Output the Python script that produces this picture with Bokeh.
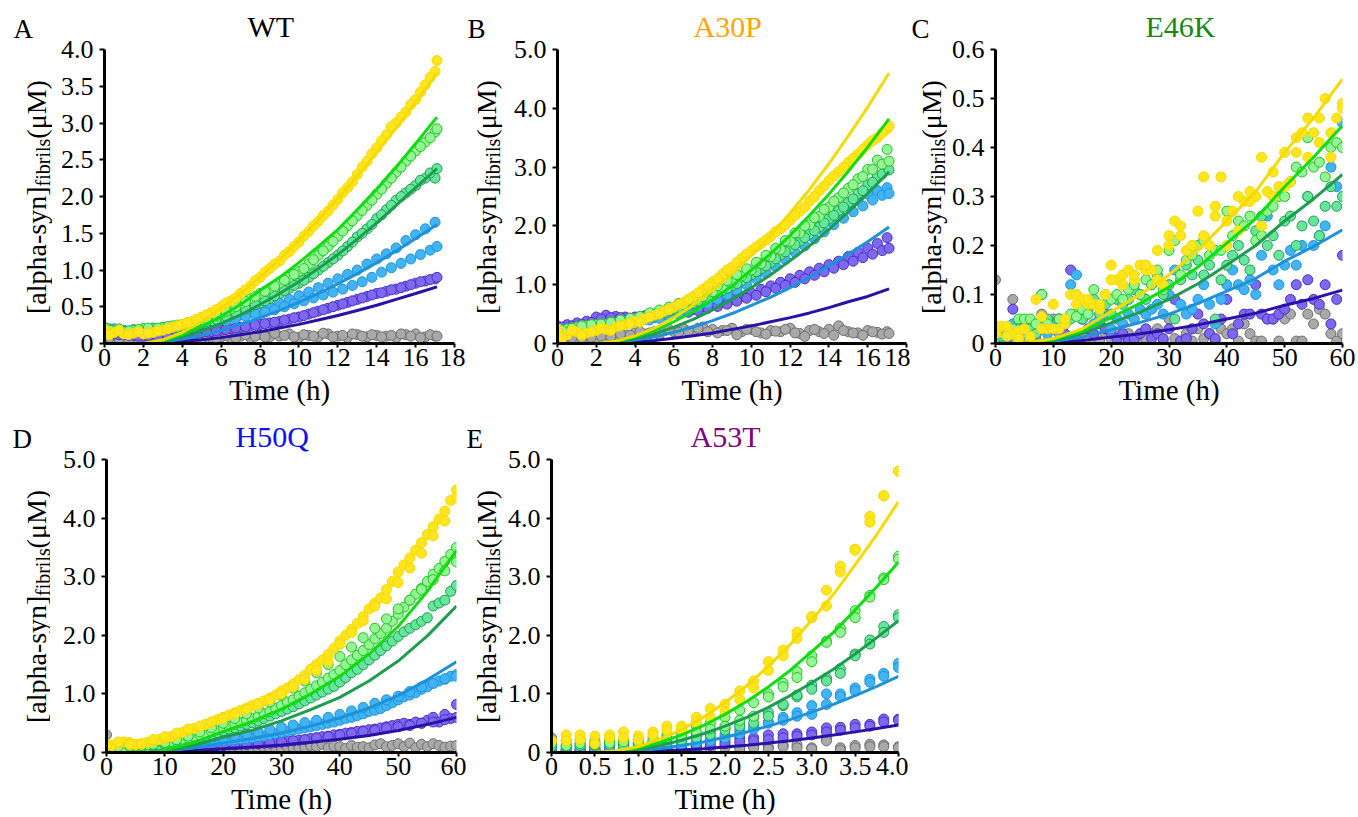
import math
from bokeh.plotting import figure
from bokeh.models import Range1d, FixedTicker
from bokeh.layouts import column, row
from bokeh.core.properties import value
from bokeh.embed import file_html
from bokeh.resources import INLINE

FONT = "Liberation Serif"

# ---------------- data ----------------
T_AB1 = [0, 0.5, 1, 1.5, 2, 2.5, 3, 3.5, 4, 4.5, 5, 5.5, 6, 6.5, 7, 7.5, 8, 8.5, 9, 9.5,
         10, 10.5, 11, 11.5, 12, 12.5, 13, 13.5, 14, 14.5, 15, 15.5, 16, 16.5, 17]
T_AB2 = [0.25, 0.75, 1.25, 1.75, 2.25, 2.75, 3.25, 3.75, 4.25, 4.75, 5.25, 5.75, 6.25, 6.75,
         7.25, 7.75, 8.25, 8.75, 9.25, 9.75, 10.25, 10.75, 11.25, 11.75, 12.25, 12.75, 13.25,
         13.75, 14.25, 14.75, 15.25, 15.75, 16.25, 16.75, 17.1]
T_FIT_AB = [2, 3, 4, 5, 6, 7, 8, 9, 10, 11, 12, 13, 14, 15, 16, 17.1]

T_60 = [0, 1, 2, 3, 4, 5, 6, 7, 8, 9, 10, 11, 12, 13, 14, 15, 16, 17, 18, 19, 20, 21, 22, 23,
        24, 25, 26, 27, 28, 29, 30, 31, 32, 33, 34, 35, 36, 37, 38, 39, 40, 41, 42, 43, 44, 45,
        46, 47, 48, 49, 50, 51, 52, 53, 54, 55, 56, 57, 58, 59, 60]
T_60B = [0, 2, 4, 6, 8, 10, 12, 14, 16, 18, 20, 22, 24, 26, 28, 30, 32, 34, 36, 38, 40, 42,
         44, 46, 48, 50, 52, 54, 56, 58, 60]
T_FIT_C = [5, 10, 15, 20, 25, 30, 35, 40, 45, 50, 55, 60]
T_FIT_D = [8, 10, 15, 20, 25, 30, 35, 40, 45, 50, 55, 60]

T_E = [0, 0.17, 0.33, 0.5, 0.67, 0.83, 1.0, 1.17, 1.33, 1.5, 1.67, 1.83, 2.0, 2.17, 2.33,
       2.5, 2.67, 2.83, 3.0, 3.17, 3.33, 3.5, 3.67, 3.83, 4.0]
T_FIT_E = [0.5, 0.75, 1.0, 1.25, 1.5, 1.75, 2.0, 2.25, 2.5, 2.75, 3.0, 3.25, 3.5, 3.75, 4.0]

# ---- A: WT ----
A_yellow1 = [0.20, 0.15, 0.13, 0.14, 0.13, 0.15, 0.18, 0.22, 0.26, 0.30, 0.36, 0.42, 0.50, 0.58, 0.68, 0.78, 0.90, 1.02, 1.12, 1.25,
             1.38, 1.52, 1.66, 1.80, 1.96, 2.12, 2.30, 2.48, 2.66, 2.84, 3.00, 3.15, 3.32, 3.52, 3.70]
A_yellow2 = [0.12, 0.18, 0.12, 0.16, 0.14, 0.17, 0.20, 0.24, 0.28, 0.33, 0.39, 0.46, 0.55, 0.62, 0.73, 0.85, 0.97, 1.08, 1.20, 1.32,
             1.46, 1.60, 1.74, 1.88, 2.05, 2.20, 2.40, 2.58, 2.76, 2.95, 3.08, 3.25, 3.42, 3.62, 3.85]
A_lgreen1 = [0.20, 0.18, 0.16, 0.18, 0.20, 0.20, 0.22, 0.24, 0.26, 0.29, 0.32, 0.36, 0.41, 0.47, 0.54, 0.61, 0.68, 0.75, 0.82, 0.90,
             0.98, 1.08, 1.20, 1.32, 1.46, 1.60, 1.74, 1.88, 2.03, 2.18, 2.33, 2.48, 2.62, 2.74, 2.88]
A_lgreen2 = [0.18, 0.20, 0.17, 0.19, 0.21, 0.21, 0.23, 0.25, 0.28, 0.30, 0.34, 0.38, 0.44, 0.50, 0.57, 0.64, 0.71, 0.78, 0.86, 0.94,
             1.02, 1.14, 1.26, 1.39, 1.53, 1.67, 1.81, 1.95, 2.10, 2.25, 2.40, 2.55, 2.68, 2.80, 2.92]
A_dgreen1 = [0.18, 0.15, 0.14, 0.15, 0.16, 0.17, 0.19, 0.21, 0.23, 0.25, 0.28, 0.31, 0.35, 0.40, 0.45, 0.50, 0.55, 0.61, 0.68, 0.75,
             0.82, 0.90, 1.00, 1.10, 1.20, 1.32, 1.45, 1.56, 1.70, 1.82, 1.95, 2.05, 2.15, 2.25, 2.25]
A_dgreen2 = [0.16, 0.16, 0.15, 0.16, 0.17, 0.18, 0.20, 0.22, 0.24, 0.27, 0.30, 0.33, 0.37, 0.42, 0.47, 0.53, 0.58, 0.65, 0.72, 0.79,
             0.86, 0.95, 1.05, 1.15, 1.26, 1.38, 1.50, 1.62, 1.75, 1.88, 2.00, 2.10, 2.22, 2.32, 2.38]
A_blue1 = [0.22, 0.20, 0.18, 0.19, 0.20, 0.21, 0.22, 0.23, 0.24, 0.26, 0.28, 0.30, 0.33, 0.36, 0.39, 0.42, 0.46, 0.50, 0.55, 0.60,
           0.65, 0.70, 0.76, 0.82, 0.88, 0.94, 1.00, 1.08, 1.15, 1.22, 1.30, 1.40, 1.48, 1.56, 1.65]
A_blue2 = [0.20, 0.18, 0.17, 0.18, 0.19, 0.20, 0.21, 0.22, 0.23, 0.25, 0.27, 0.29, 0.31, 0.34, 0.37, 0.40, 0.43, 0.46, 0.50, 0.54,
           0.58, 0.62, 0.66, 0.70, 0.74, 0.79, 0.84, 0.90, 0.97, 1.03, 1.09, 1.15, 1.21, 1.27, 1.32]
A_purple1 = [0.15, 0.13, 0.12, 0.11, 0.10, 0.10, 0.10, 0.11, 0.12, 0.13, 0.15, 0.16, 0.18, 0.20, 0.22, 0.24, 0.26, 0.28, 0.30, 0.33,
             0.36, 0.40, 0.44, 0.48, 0.52, 0.56, 0.60, 0.64, 0.68, 0.71, 0.74, 0.78, 0.82, 0.85, 0.88]
A_purple2 = [0.14, 0.12, 0.11, 0.10, 0.10, 0.10, 0.11, 0.12, 0.13, 0.14, 0.16, 0.17, 0.19, 0.21, 0.23, 0.25, 0.27, 0.29, 0.32, 0.35,
             0.38, 0.42, 0.46, 0.50, 0.54, 0.58, 0.62, 0.66, 0.69, 0.73, 0.76, 0.80, 0.84, 0.87, 0.90]
A_gray1 = [0.10, 0.08, 0.07, 0.06, 0.06, 0.07, 0.05, 0.06, 0.07, 0.08, 0.06, 0.08, 0.09, 0.07, 0.10, 0.08, 0.12, 0.09, 0.10, 0.13,
           0.08, 0.11, 0.09, 0.13, 0.10, 0.08, 0.12, 0.09, 0.11, 0.10, 0.08, 0.12, 0.13, 0.09, 0.10]
A_gray2 = [0.08, 0.06, 0.05, 0.06, 0.07, 0.05, 0.06, 0.08, 0.07, 0.09, 0.10, 0.07, 0.11, 0.08, 0.12, 0.10, 0.09, 0.14, 0.11, 0.09,
           0.12, 0.10, 0.14, 0.09, 0.11, 0.13, 0.10, 0.12, 0.09, 0.11, 0.13, 0.10, 0.08, 0.12, 0.10]
A_fit_yellow = [0, 0.05, 0.15, 0.30, 0.48, 0.68, 0.90, 1.14, 1.40, 1.68, 1.97, 2.28, 2.60, 2.93, 3.28, 3.68]
A_fit_green = [0, 0.04, 0.12, 0.23, 0.37, 0.53, 0.72, 0.90, 1.10, 1.32, 1.55, 1.82, 2.10, 2.40, 2.72, 3.08]
A_fit_dgreen = [0, 0.03, 0.09, 0.17, 0.27, 0.39, 0.53, 0.68, 0.84, 1.02, 1.21, 1.42, 1.64, 1.88, 2.12, 2.38]
A_fit_blue = [0, 0.02, 0.06, 0.11, 0.18, 0.26, 0.35, 0.45, 0.56, 0.68, 0.81, 0.95, 1.10, 1.26, 1.43, 1.62]
A_fit_navy = [0, 0.01, 0.03, 0.05, 0.08, 0.12, 0.16, 0.21, 0.26, 0.32, 0.38, 0.45, 0.52, 0.60, 0.68, 0.77]

# ---- B: A30P ----
B_yellow1 = [0.25, 0.15, 0.20, 0.18, 0.22, 0.24, 0.28, 0.32, 0.38, 0.42, 0.48, 0.55, 0.62, 0.70, 0.80, 0.92, 1.05, 1.18, 1.30, 1.45,
             1.58, 1.70, 1.82, 1.95, 2.10, 2.25, 2.42, 2.60, 2.77, 2.92, 3.08, 3.22, 3.38, 3.50, 3.65]
B_yellow2 = [0.10, 0.22, 0.14, 0.20, 0.26, 0.22, 0.30, 0.34, 0.36, 0.45, 0.50, 0.58, 0.66, 0.75, 0.86, 0.98, 1.10, 1.25, 1.38, 1.52,
             1.64, 1.76, 1.90, 2.02, 2.18, 2.32, 2.50, 2.68, 2.85, 3.00, 3.15, 3.30, 3.45, 3.58, 3.70]
B_lgreen1 = [0.20, 0.25, 0.28, 0.30, 0.32, 0.33, 0.35, 0.38, 0.42, 0.45, 0.50, 0.55, 0.60, 0.66, 0.72, 0.80, 0.88, 0.96, 1.05, 1.15,
             1.25, 1.36, 1.48, 1.60, 1.74, 1.88, 2.02, 2.16, 2.32, 2.48, 2.64, 2.80, 2.96, 3.12, 3.30]
B_lgreen2 = [0.22, 0.26, 0.30, 0.32, 0.33, 0.36, 0.40, 0.43, 0.46, 0.52, 0.57, 0.62, 0.68, 0.74, 0.82, 0.90, 0.98, 1.07, 1.17, 1.27,
             1.38, 1.50, 1.62, 1.75, 1.88, 2.00, 2.14, 2.28, 2.42, 2.56, 2.70, 2.84, 2.96, 3.05, 3.10]
B_dgreen1 = [0.20, 0.22, 0.25, 0.27, 0.30, 0.32, 0.34, 0.36, 0.40, 0.43, 0.47, 0.52, 0.57, 0.62, 0.68, 0.75, 0.82, 0.90, 0.98, 1.07,
             1.17, 1.27, 1.38, 1.50, 1.62, 1.74, 1.86, 1.98, 2.12, 2.26, 2.40, 2.55, 2.70, 2.85, 3.00]
B_dgreen2 = [0.18, 0.24, 0.26, 0.29, 0.31, 0.33, 0.35, 0.38, 0.41, 0.45, 0.50, 0.55, 0.60, 0.65, 0.72, 0.78, 0.86, 0.94, 1.02, 1.12,
             1.22, 1.32, 1.44, 1.56, 1.68, 1.80, 1.92, 2.05, 2.18, 2.32, 2.46, 2.60, 2.74, 2.88, 2.95]
B_blue1 = [0.22, 0.24, 0.26, 0.28, 0.30, 0.32, 0.34, 0.36, 0.38, 0.41, 0.44, 0.48, 0.53, 0.58, 0.64, 0.70, 0.78, 0.86, 0.94, 1.04,
           1.14, 1.24, 1.36, 1.48, 1.60, 1.72, 1.85, 1.98, 2.10, 2.22, 2.34, 2.45, 2.54, 2.60, 2.65]
B_blue2 = [0.20, 0.22, 0.25, 0.27, 0.29, 0.31, 0.33, 0.35, 0.37, 0.40, 0.43, 0.47, 0.51, 0.56, 0.62, 0.68, 0.75, 0.83, 0.91, 1.00,
           1.10, 1.20, 1.31, 1.43, 1.55, 1.66, 1.78, 1.90, 2.02, 2.13, 2.24, 2.34, 2.44, 2.52, 2.55]
B_purple1 = [0.30, 0.32, 0.35, 0.38, 0.45, 0.48, 0.46, 0.45, 0.45, 0.47, 0.48, 0.50, 0.52, 0.55, 0.58, 0.62, 0.66, 0.70, 0.75, 0.80,
             0.86, 0.92, 0.98, 1.04, 1.10, 1.16, 1.22, 1.28, 1.34, 1.40, 1.48, 1.55, 1.62, 1.70, 1.80]
B_purple2 = [0.28, 0.30, 0.33, 0.36, 0.42, 0.44, 0.44, 0.43, 0.44, 0.45, 0.47, 0.49, 0.51, 0.53, 0.56, 0.60, 0.63, 0.67, 0.72, 0.77,
             0.82, 0.88, 0.94, 0.99, 1.04, 1.10, 1.16, 1.22, 1.28, 1.34, 1.40, 1.46, 1.52, 1.58, 1.62]
B_gray1 = [0.10, 0.08, 0.10, 0.12, 0.10, 0.14, 0.12, 0.15, 0.18, 0.16, 0.20, 0.22, 0.20, 0.25, 0.22, 0.28, 0.24, 0.22, 0.26, 0.20,
           0.24, 0.18, 0.22, 0.20, 0.26, 0.17, 0.22, 0.20, 0.24, 0.30, 0.20, 0.18, 0.22, 0.19, 0.20]
B_gray2 = [0.06, 0.10, 0.09, 0.11, 0.13, 0.12, 0.16, 0.14, 0.20, 0.18, 0.15, 0.24, 0.19, 0.21, 0.26, 0.20, 0.18, 0.22, 0.15, 0.24,
           0.20, 0.16, 0.21, 0.24, 0.18, 0.12, 0.24, 0.17, 0.14, 0.22, 0.18, 0.14, 0.20, 0.16, 0.17]
B_fit_yellow = [0, 0.04, 0.13, 0.26, 0.44, 0.65, 0.90, 1.18, 1.50, 1.84, 2.22, 2.62, 3.06, 3.53, 4.02, 4.60]
B_fit_green = [0, 0.03, 0.11, 0.22, 0.37, 0.54, 0.75, 0.98, 1.25, 1.53, 1.84, 2.18, 2.54, 2.93, 3.34, 3.82]
B_fit_dgreen = [0, 0.03, 0.08, 0.16, 0.28, 0.41, 0.57, 0.75, 0.95, 1.17, 1.41, 1.66, 1.94, 2.24, 2.55, 2.92]
B_fit_blue = [0, 0.02, 0.06, 0.11, 0.19, 0.28, 0.39, 0.51, 0.65, 0.79, 0.95, 1.13, 1.32, 1.52, 1.73, 1.98]
B_fit_navy = [0, 0.01, 0.03, 0.05, 0.09, 0.13, 0.18, 0.24, 0.30, 0.37, 0.44, 0.52, 0.61, 0.71, 0.80, 0.93]

# ---- C: E46K ----
C_yellow1 = [0.035, 0.035, 0.035, 0.02, 0.025, 0.03, 0.01, 0.09, 0.055, 0.03,
             0.08, 0.03, 0.04, 0.10, 0.10, 0.09, 0.08, 0.08, 0.07, 0.10,
             0.16, 0.13, 0.14, 0.15, 0.13, 0.16, 0.15, 0.15, 0.19, 0.12,
             0.22, 0.25, 0.22, 0.19, 0.20, 0.27, 0.34, 0.20, 0.26, 0.34,
             0.20, 0.27, 0.23, 0.29, 0.31, 0.30, 0.38, 0.31, 0.35, 0.32,
             0.39, 0.33, 0.42, 0.43, 0.46, 0.43, 0.46, 0.50, 0.43, 0.46, 0.49]
C_yellow2 = [0.02, 0.015, 0.01, 0.015, 0.03, 0.03, 0.05, 0.08, 0.09, 0.08,
             0.13, 0.12, 0.14, 0.16, 0.13, 0.20, 0.24, 0.20, 0.22, 0.28,
             0.25, 0.30, 0.29, 0.24, 0.30, 0.32, 0.39, 0.38, 0.41, 0.38, 0.48]
C_lgreen = [0.03, 0.02, 0.02, 0.03, 0.05, 0.05, 0.05, 0.04, 0.10, 0.04,
            0.03, 0.05, 0.04, 0.06, 0.055, 0.07, 0.06, 0.11, 0.08, 0.10,
            0.09, 0.10, 0.09, 0.11, 0.12, 0.10, 0.13, 0.12, 0.15, 0.11,
            0.19, 0.21, 0.14, 0.17, 0.18, 0.20, 0.21, 0.18, 0.19, 0.19,
            0.27, 0.22, 0.25, 0.24, 0.26, 0.21, 0.22, 0.27, 0.28, 0.30,
            0.30, 0.33, 0.36, 0.35, 0.42, 0.36, 0.37, 0.34, 0.40, 0.41, 0.40]
C_dgreen = [0.01, 0.015, 0.02, 0.015, 0.03, 0.02, 0.03, 0.02, 0.04, 0.05,
            0.03, 0.05, 0.04, 0.05, 0.06, 0.05, 0.07, 0.09, 0.06, 0.08,
            0.06, 0.09, 0.08, 0.09, 0.11, 0.10, 0.09, 0.12, 0.14, 0.10,
            0.12, 0.05, 0.13, 0.16, 0.14, 0.17, 0.14, 0.16, 0.05, 0.13,
            0.16, 0.18, 0.20, 0.17, 0.15, 0.23, 0.26, 0.20, 0.22, 0.18,
            0.25, 0.26, 0.20, 0.24, 0.30, 0.25, 0.22, 0.28, 0.32, 0.28, 0.30]
C_blue = [0.02, 0.01, 0.03, 0.04, 0.03, 0.02, 0.01, 0.02, 0.03, 0.02,
          0.04, 0.03, 0.04, 0.12, 0.14, 0.05, 0.06, 0.04, 0.05, 0.06,
          0.03, 0.05, 0.04, 0.06, 0.05, 0.07, 0.06, 0.07, 0.08, 0.06,
          0.10, 0.15, 0.08, 0.06, 0.07, 0.09, 0.12, 0.08, 0.04, 0.09,
          0.12, 0.15, 0.12, 0.11, 0.13, 0.10, 0.18, 0.26, 0.15, 0.12,
          0.16, 0.19, 0.16, 0.20, 0.30, 0.20, 0.22, 0.24, 0.36, 0.32, 0.45]
C_purple = [0.01, 0.02, 0.01, 0.07, 0.02, 0.04, 0.03, 0.02, 0.10, 0.04,
            0.03, 0.05, 0.02, 0.15, 0.06, 0.05, 0.03, 0.02, 0.04, 0.03,
            0.02, 0.01, 0.02, 0.005, 0.01, 0.02, 0.03, 0.01, 0.02, 0.01,
            0.03, 0.09, 0.005, 0.01, 0.03, 0.06, 0.04, 0.02, 0.01, 0.05,
            0.09, 0.02, 0.04, 0.06, 0.06, 0.12, 0.06, 0.05, 0.05, 0.06,
            0.07, 0.09, 0.12, 0.08, 0.13, 0.09, 0.08, 0.12, 0.04, 0.09, 0.18]
C_gray = [0.13, 0.01, 0.02, 0.09, 0.01, 0.005, 0.02, 0.01, 0.06, 0.005,
          0.05, 0.02, 0.01, 0.005, 0.01, 0.02, 0.005, 0.01, 0.005, 0.02,
          0.01, 0.02, 0.005, 0.02, 0.01, 0.005, 0.01, 0.02, 0.03, 0.005,
          0.05, 0.01, 0.005, 0.02, 0.005, 0.03, 0.01, 0.02, 0.005, 0.03,
          0.02, 0.03, 0.005, 0.04, 0.02, 0.005, 0.005, 0.05, 0.05, 0.005,
          0.05, 0.06, 0.005, 0.005, 0.06, 0.04, 0.07, 0.06, 0.02, 0.005, 0.02]
C_fit_yellow = [0, 0.01, 0.03, 0.065, 0.10, 0.14, 0.19, 0.25, 0.31, 0.39, 0.46, 0.54]
C_fit_green = [0, 0.008, 0.025, 0.053, 0.082, 0.115, 0.156, 0.205, 0.255, 0.32, 0.38, 0.445]
C_fit_dgreen = [0, 0.006, 0.02, 0.042, 0.064, 0.09, 0.122, 0.16, 0.20, 0.25, 0.295, 0.345]
C_fit_blue = [0, 0.004, 0.013, 0.028, 0.043, 0.06, 0.082, 0.107, 0.133, 0.168, 0.198, 0.232]
C_fit_navy = [0, 0.002, 0.006, 0.013, 0.02, 0.028, 0.038, 0.05, 0.062, 0.078, 0.092, 0.109]

# ---- D: H50Q ----
D_yellow1 = [0.15, 0.12, 0.16, 0.18, 0.17, 0.14, 0.15, 0.17, 0.20, 0.22,
             0.24, 0.27, 0.30, 0.34, 0.38, 0.41, 0.44, 0.48, 0.52, 0.56,
             0.60, 0.64, 0.68, 0.72, 0.76, 0.80, 0.84, 0.88, 0.93, 0.98,
             1.05, 1.10, 1.17, 1.24, 1.32, 1.42, 1.50, 1.58, 1.67, 1.78,
             1.90, 2.00, 2.10, 2.20, 2.32, 2.45, 2.55, 2.64, 2.78, 2.92,
             3.08, 3.20, 3.32, 3.45, 3.58, 3.72, 3.85, 3.98, 4.12, 4.30, 4.48]
D_yellow2 = [0.12, 0.18, 0.14, 0.15, 0.22, 0.27, 0.33, 0.40, 0.45, 0.52,
             0.58, 0.66, 0.74, 0.82, 0.90, 1.00, 1.12, 1.25, 1.40, 1.55,
             1.85, 2.05, 2.25, 2.50, 2.62, 2.90, 3.15, 3.40, 3.70, 3.95, 4.35]
D_lgreen1 = [0.10, 0.08, 0.10, 0.09, 0.10, 0.11, 0.12, 0.13, 0.14, 0.20,
             0.17, 0.19, 0.21, 0.23, 0.25, 0.28, 0.30, 0.33, 0.36, 0.39,
             0.42, 0.45, 0.48, 0.51, 0.55, 0.58, 0.62, 0.66, 0.70, 0.75,
             0.80, 0.86, 0.90, 0.96, 1.02, 1.08, 1.14, 1.20, 1.27, 1.33,
             1.40, 1.50, 1.58, 1.66, 1.74, 1.84, 1.94, 2.03, 2.12, 2.24,
             2.36, 2.48, 2.60, 2.70, 2.80, 2.92, 3.04, 3.14, 3.26, 3.38, 3.50]
D_lgreen2 = [0.09, 0.10, 0.11, 0.12, 0.14, 0.17, 0.22, 0.28, 0.35, 0.42,
             0.50, 0.58, 0.66, 0.76, 0.86, 0.98, 1.10, 1.22, 1.36, 1.50,
             1.64, 1.80, 1.96, 2.12, 2.28, 2.45, 2.60, 2.78, 2.95, 3.10, 3.25]
D_dgreen = [0.08, 0.06, 0.07, 0.08, 0.07, 0.08, 0.09, 0.10, 0.12, 0.13,
            0.14, 0.16, 0.18, 0.20, 0.22, 0.24, 0.26, 0.28, 0.31, 0.34,
            0.37, 0.40, 0.42, 0.45, 0.48, 0.51, 0.54, 0.58, 0.62, 0.66,
            0.70, 0.74, 0.78, 0.83, 0.88, 0.93, 0.98, 1.03, 1.08, 1.13,
            1.20, 1.28, 1.36, 1.42, 1.50, 1.58, 1.66, 1.74, 1.82, 1.90,
            1.98, 2.06, 2.12, 2.18, 2.24, 2.30, 2.50, 2.55, 2.60, 2.75, 2.85]
D_blue1 = [0.08, 0.07, 0.06, 0.07, 0.06, 0.07, 0.08, 0.08, 0.09, 0.10,
           0.10, 0.11, 0.12, 0.13, 0.14, 0.15, 0.16, 0.17, 0.18, 0.19,
           0.20, 0.21, 0.22, 0.23, 0.24, 0.25, 0.27, 0.28, 0.30, 0.32,
           0.34, 0.36, 0.38, 0.40, 0.42, 0.44, 0.46, 0.48, 0.50, 0.52,
           0.55, 0.58, 0.60, 0.63, 0.66, 0.70, 0.72, 0.75, 0.80, 0.85,
           0.90, 0.95, 0.98, 1.02, 1.08, 1.12, 1.18, 1.22, 1.25, 1.30, 1.33]
D_blue2 = [0.06, 0.07, 0.08, 0.10, 0.12, 0.14, 0.16, 0.18, 0.21, 0.23,
           0.26, 0.29, 0.32, 0.35, 0.39, 0.43, 0.47, 0.51, 0.55, 0.60,
           0.65, 0.71, 0.77, 0.84, 0.90, 0.96, 1.04, 1.12, 1.18, 1.26, 1.30]
D_purple1 = [0.05, 0.04, 0.04, 0.05, 0.04, 0.05, 0.05, 0.06, 0.06, 0.07,
             0.07, 0.08, 0.08, 0.09, 0.09, 0.10, 0.10, 0.11, 0.11, 0.12,
             0.12, 0.13, 0.13, 0.14, 0.14, 0.15, 0.15, 0.16, 0.17, 0.17,
             0.18, 0.19, 0.20, 0.21, 0.22, 0.24, 0.25, 0.27, 0.28, 0.30,
             0.31, 0.33, 0.34, 0.36, 0.37, 0.39, 0.40, 0.42, 0.44, 0.46,
             0.48, 0.50, 0.48, 0.52, 0.50, 0.55, 0.60, 0.52, 0.65, 0.58, 0.82]
D_purple2 = [0.03, 0.04, 0.05, 0.06, 0.06, 0.07, 0.08, 0.09, 0.10, 0.11,
             0.12, 0.13, 0.14, 0.15, 0.16, 0.18, 0.20, 0.22, 0.25, 0.27,
             0.30, 0.33, 0.36, 0.38, 0.42, 0.44, 0.46, 0.50, 0.52, 0.56, 0.60]
D_gray = [0.30, 0.10, 0.05, 0.06, 0.04, 0.05, 0.06, 0.05, 0.04, 0.05,
          0.06, 0.05, 0.04, 0.05, 0.06, 0.05, 0.07, 0.06, 0.05, 0.07,
          0.06, 0.08, 0.05, 0.07, 0.06, 0.08, 0.07, 0.09, 0.06, 0.08,
          0.07, 0.10, 0.08, 0.06, 0.09, 0.12, 0.10, 0.14, 0.08, 0.11,
          0.10, 0.07, 0.12, 0.09, 0.10, 0.08, 0.13, 0.15, 0.10, 0.12,
          0.15, 0.10, 0.16, 0.08, 0.14, 0.10, 0.15, 0.12, 0.09, 0.11, 0.12]
D_fit_green = [0, 0.04, 0.17, 0.36, 0.53, 0.74, 1.00, 1.30, 1.68, 2.15, 2.75, 3.45]
D_fit_dgreen = [0, 0.03, 0.12, 0.26, 0.38, 0.54, 0.73, 0.94, 1.22, 1.56, 1.99, 2.50]
D_fit_blue = [0, 0.02, 0.08, 0.16, 0.24, 0.33, 0.45, 0.59, 0.76, 0.97, 1.24, 1.55]
D_fit_navy = [0, 0.007, 0.03, 0.063, 0.092, 0.13, 0.174, 0.226, 0.29, 0.374, 0.48, 0.60]

# ---- E: A53T ----
E_yellow1 = [0.20, 0.30, 0.30, 0.28, 0.30, 0.35, 0.28, 0.35, 0.45, 0.45, 0.60, 0.75, 0.82, 1.05, 1.22, 1.55, 1.75, 2.05, 2.30, 2.77,
             3.18, 3.47, 4.03, 4.38, 4.80]
E_yellow2 = [0.20, 0.20, 0.22, 0.15, 0.25, 0.25, 0.22, 0.30, 0.38, 0.40, 0.52, 0.60, 0.70, 0.90, 1.10, 1.40, 1.65, 1.95, 2.32, 2.50,
             3.08, 3.45, 3.93, 4.38, 4.80]
E_lgreen1 = [0.20, 0.20, 0.22, 0.20, 0.22, 0.20, 0.22, 0.25, 0.30, 0.35, 0.45, 0.50, 0.60, 0.72, 0.85, 1.00, 1.18, 1.38, 1.65, 1.90,
             2.12, 2.42, 2.68, 2.98, 3.35]
E_lgreen2 = [0.15, 0.12, 0.15, 0.14, 0.16, 0.18, 0.18, 0.20, 0.25, 0.28, 0.35, 0.40, 0.45, 0.55, 0.62, 0.95, 1.12, 1.28, 1.55, 1.88,
             2.05, 2.30, 2.65, 2.95, 3.30]
E_dgreen1 = [0.12, 0.12, 0.15, 0.16, 0.15, 0.16, 0.15, 0.18, 0.20, 0.22, 0.30, 0.35, 0.42, 0.50, 0.60, 0.68, 0.80, 0.95, 1.15, 1.27,
             1.43, 1.68, 1.92, 2.15, 2.35]
E_dgreen2 = [0.10, 0.10, 0.12, 0.12, 0.13, 0.12, 0.14, 0.15, 0.17, 0.20, 0.25, 0.30, 0.38, 0.45, 0.50, 0.62, 0.82, 0.98, 1.08, 1.22,
             1.35, 1.65, 1.85, 2.05, 2.30]
E_blue1 = [0.10, 0.08, 0.10, 0.09, 0.10, 0.10, 0.10, 0.12, 0.14, 0.16, 0.20, 0.25, 0.30, 0.38, 0.45, 0.52, 0.60, 0.68, 0.80, 1.00,
           1.00, 1.10, 1.25, 1.35, 1.52]
E_blue2 = [0.06, 0.06, 0.07, 0.07, 0.08, 0.08, 0.09, 0.10, 0.11, 0.13, 0.16, 0.20, 0.25, 0.32, 0.40, 0.50, 0.55, 0.62, 0.65, 0.82,
           0.95, 1.05, 1.20, 1.30, 1.45]
E_purple1 = [0.05, 0.04, 0.05, 0.04, 0.05, 0.05, 0.06, 0.07, 0.08, 0.10, 0.12, 0.18, 0.20, 0.25, 0.25, 0.30, 0.32, 0.32, 0.35, 0.42,
             0.43, 0.48, 0.48, 0.57, 0.57]
E_purple2 = [0.02, 0.03, 0.03, 0.03, 0.04, 0.04, 0.04, 0.05, 0.06, 0.07, 0.10, 0.12, 0.15, 0.18, 0.20, 0.22, 0.25, 0.28, 0.30, 0.35,
             0.38, 0.42, 0.45, 0.52, 0.55]
E_gray1 = [0.25, 0.05, 0.04, 0.05, 0.04, 0.05, 0.04, 0.05, 0.06, 0.05, 0.08, 0.10, 0.12, 0.10, 0.10, 0.10, 0.12, 0.13, 0.08, 0.25,
           0.08, 0.12, 0.14, 0.13, 0.10]
E_gray2 = [0.20, 0.03, 0.02, 0.03, 0.03, 0.02, 0.03, 0.04, 0.04, 0.04, 0.05, 0.06, 0.08, 0.06, 0.08, 0.06, 0.10, 0.08, 0.06, 0.20,
           0.04, 0.08, 0.10, 0.10, 0.08]
E_fit_yellow = [0, 0.03, 0.10, 0.23, 0.39, 0.60, 0.85, 1.14, 1.47, 1.84, 2.26, 2.70, 3.20, 3.72, 4.28]
E_fit_green = [0, 0.02, 0.08, 0.17, 0.30, 0.46, 0.65, 0.87, 1.12, 1.40, 1.72, 2.05, 2.43, 2.83, 3.25]
E_fit_dgreen = [0, 0.02, 0.05, 0.12, 0.21, 0.32, 0.45, 0.60, 0.77, 0.97, 1.19, 1.42, 1.68, 1.96, 2.25]
E_fit_blue = [0, 0.01, 0.03, 0.07, 0.12, 0.18, 0.26, 0.35, 0.45, 0.56, 0.69, 0.82, 0.97, 1.13, 1.30]
E_fit_navy = [0, 0.003, 0.011, 0.025, 0.043, 0.066, 0.094, 0.125, 0.162, 0.202, 0.249, 0.297, 0.352, 0.409, 0.47]

# tick values and labels
X_TICKS_18 = [0, 2, 4, 6, 8, 10, 12, 14, 16, 18]
X_LABELS_18 = ["0", "2", "4", "6", "8", "10", "12", "14", "16", "18"]
X_TICKS_60 = [0, 10, 20, 30, 40, 50, 60]
X_LABELS_60 = ["0", "10", "20", "30", "40", "50", "60"]
X_TICKS_4 = [0, 0.5, 1.0, 1.5, 2.0, 2.5, 3.0, 3.5, 4.0]
X_LABELS_4 = ["0", "0.5", "1.0", "1.5", "2.0", "2.5", "3.0", "3.5", "4.0"]
Y_TICKS_4 = [0, 0.5, 1.0, 1.5, 2.0, 2.5, 3.0, 3.5, 4.0]
Y_LABELS_4 = ["0", "0.5", "1.0", "1.5", "2.0", "2.5", "3.0", "3.5", "4.0"]
Y_TICKS_5 = [0, 1, 2, 3, 4, 5]
Y_LABELS_5 = ["0", "1.0", "2.0", "3.0", "4.0", "5.0"]
Y_TICKS_06 = [0, 0.1, 0.2, 0.3, 0.4, 0.5, 0.6]
Y_LABELS_06 = ["0", "0.1", "0.2", "0.3", "0.4", "0.5", "0.6"]

# ---------------- styles ----------------
DOT = {
    "gray": ("#a9a9a9", "#6e6e6e"),
    "purple": ("#7f68f0", "#4a2fc4"),
    "blue": ("#42b4f4", "#1d92e2"),
    "dgreen": ("#66e59c", "#1f9e4c"),
    "lgreen": ("#93f593", "#22c322"),
    "yellow": ("#ffe61c", "#f5d800"),
}
LINE = {
    "navy": "#2a10a6",
    "blue": "#1e92d8",
    "dgreen": "#1d9e4e",
    "green": "#10dc10",
    "yellow": "#f4da00",
}
FRAME_H = 294
TICK_FS = "26px"
AXLAB_FS = "29px"


def make_side(width, height, bt, bb, letter, letter_x, lab_x):
    """Narrow strip left of a panel: panel letter (as its title) and the y-axis title."""
    s = figure(width=width, height=height, x_range=Range1d(0, width), y_range=Range1d(0, FRAME_H),
               min_border_left=0, min_border_right=0, min_border_top=bt, min_border_bottom=bb,
               output_backend="svg", toolbar_location=None, tools="",
               x_axis_type=None, y_axis_type=None, title=letter)
    s.outline_line_color = None
    s.background_fill_color = "white"
    s.border_fill_color = "white"
    s.title.align = "left"
    s.title.offset = letter_x
    s.title.text_font = FONT
    s.title.text_font_size = "27px"
    s.title.text_font_style = "normal"
    s.title.text_color = "black"
    s.title.standoff = 12
    main_fs, sub_fs = 28, 20
    w1 = 4.554 * main_fs
    w2 = 2.389 * sub_fs
    w3 = 2.131 * main_fs
    start = FRAME_H / 2 - (w1 + w2 + w3) / 2
    for txt, dx, dy, fs in (("[alpha-syn]", 0, 0, main_fs),
                            ("fibrils", 6, w1, sub_fs),
                            ("(\u03bcM)", 0, w1 + w2, main_fs)):
        s.text(x=[lab_x + dx], y=[start + dy], text=[txt], angle=math.pi / 2,
               text_font=value(FONT), text_font_size=value(f"{fs}px"), text_color="black",
               text_align="left", text_baseline="alphabetic")
    return s


def make_panel(title, title_color, title_left, xr, yr, xt, xl, yt, yl,
               bl, fw, br, bt, bb, dots, fits):
    p = figure(width=bl + fw + br, height=bt + FRAME_H + bb,
               min_border_left=bl, min_border_right=br, min_border_top=bt, min_border_bottom=bb,
               x_range=Range1d(*xr), y_range=Range1d(*yr), title=title,
               output_backend="svg", toolbar_location=None, tools="")
    p.outline_line_color = None
    p.xgrid.visible = False
    p.ygrid.visible = False
    p.background_fill_color = "white"
    p.border_fill_color = "white"

    p.title.align = "left"
    p.title.offset = title_left
    p.title.text_font = FONT
    p.title.text_font_size = "30px"
    p.title.text_font_style = "normal"
    p.title.text_color = title_color
    p.title.standoff = 13

    for (xs, ys, key) in dots:
        n = min(len(xs), len(ys))
        fc, lc = DOT[key]
        p.scatter(xs[:n], ys[:n], size=10, fill_color=fc, line_color=lc, line_width=1)
    for (xs, ys, key) in fits:
        n = min(len(xs), len(ys))
        p.line(xs[:n], ys[:n], line_color=LINE[key], line_width=3)

    for ax, ticks, labels in ((p.xaxis[0], xt, xl), (p.yaxis[0], yt, yl)):
        ax.ticker = FixedTicker(ticks=ticks)
        ax.major_label_overrides = {t: s for t, s in zip(ticks, labels)}
        ax.minor_tick_line_color = None
        ax.major_tick_in = 0
        ax.major_tick_out = 5
        ax.major_tick_line_width = 2
        ax.axis_line_width = 3
        ax.axis_line_color = "black"
        ax.major_tick_line_color = "black"
        ax.major_label_text_font = FONT
        ax.major_label_text_font_size = TICK_FS
        ax.major_label_text_color = "black"
    p.xaxis.major_tick_out = 4
    p.xaxis.major_label_standoff = 1
    p.yaxis.major_label_standoff = 6
    p.xaxis.axis_label = "Time (h)"
    p.xaxis.axis_label_text_font = FONT
    p.xaxis.axis_label_text_font_size = AXLAB_FS
    p.xaxis.axis_label_text_font_style = "normal"
    p.xaxis.axis_label_text_color = "black"
    p.xaxis.axis_label_standoff = 5
    return p


H1, H2 = 410, 407
BB1, BB2 = 67, 64
BT1, BT2 = 49, 49

sA = make_side(52, H1, BT1, BB1, "A", 13, 36)
pA = make_panel("WT", "black", 143, (0, 18), (0, 4.0), X_TICKS_18, X_LABELS_18, Y_TICKS_4, Y_LABELS_4,
                52, 350, 11, BT1, BB1,
                [(T_AB1, A_gray1, "gray"), (T_AB2, A_gray2, "gray"),
                 (T_AB1, A_purple1, "purple"), (T_AB2, A_purple2, "purple"),
                 (T_AB1, A_blue1, "blue"), (T_AB2, A_blue2, "blue"),
                 (T_AB1, A_dgreen1, "dgreen"), (T_AB2, A_dgreen2, "dgreen"),
                 (T_AB1, A_lgreen1, "lgreen"), (T_AB2, A_lgreen2, "lgreen"),
                 (T_AB1, A_yellow1, "yellow"), (T_AB2, A_yellow2, "yellow")],
                [(T_FIT_AB, A_fit_navy, "navy"), (T_FIT_AB, A_fit_blue, "blue"),
                 (T_FIT_AB, A_fit_dgreen, "dgreen"), (T_FIT_AB, A_fit_green, "green"),
                 (T_FIT_AB, A_fit_yellow, "yellow")])

sB = make_side(45, H1, BT1, BB1, "B", 2, 21)
pB = make_panel("A30P", "#ffa500", 136, (0, 18), (0, 5.0), X_TICKS_18, X_LABELS_18, Y_TICKS_5, Y_LABELS_5,
                45, 351, 4, BT1, BB1,
                [(T_AB1, B_gray1, "gray"), (T_AB2, B_gray2, "gray"),
                 (T_AB1, B_purple1, "purple"), (T_AB2, B_purple2, "purple"),
                 (T_AB1, B_blue1, "blue"), (T_AB2, B_blue2, "blue"),
                 (T_AB1, B_dgreen1, "dgreen"), (T_AB2, B_dgreen2, "dgreen"),
                 (T_AB1, B_lgreen1, "lgreen"), (T_AB2, B_lgreen2, "lgreen"),
                 (T_AB1, B_yellow1, "yellow"), (T_AB2, B_yellow2, "yellow")],
                [(T_FIT_AB, B_fit_navy, "navy"), (T_FIT_AB, B_fit_blue, "blue"),
                 (T_FIT_AB, B_fit_dgreen, "dgreen"), (T_FIT_AB, B_fit_green, "green"),
                 (T_FIT_AB, B_fit_yellow, "yellow")])

sC = make_side(38, H1, BT1, BB1, "C", 1, 21)
pC = make_panel("E46K", "#138a13", 150, (0, 60), (0, 0.6), X_TICKS_60, X_LABELS_60, Y_TICKS_06, Y_LABELS_06,
                43, 351, 16, BT1, BB1,
                [(T_60, C_gray, "gray"), (T_60, C_purple, "purple"), (T_60, C_blue, "blue"),
                 (T_60, C_dgreen, "dgreen"), (T_60, C_lgreen, "lgreen"),
                 (T_60, C_yellow1, "yellow"), (T_60B, C_yellow2, "yellow")],
                [(T_FIT_C, C_fit_navy, "navy"), (T_FIT_C, C_fit_blue, "blue"),
                 (T_FIT_C, C_fit_dgreen, "dgreen"), (T_FIT_C, C_fit_green, "green"),
                 (T_FIT_C, C_fit_yellow, "yellow")])

sD = make_side(50, H2, BT2, BB2, "D", 12, 36)
pD = make_panel("H50Q", "#1010f0", 129, (0, 60), (0, 5.0), X_TICKS_60, X_LABELS_60, Y_TICKS_5, Y_LABELS_5,
                56, 350, 10, BT2, BB2,
                [(T_60, D_gray, "gray"), (T_60, D_purple1, "purple"), (T_60B, D_purple2, "purple"),
                 (T_60, D_blue1, "blue"), (T_60B, D_blue2, "blue"),
                 (T_60, D_dgreen, "dgreen"), (T_60, D_lgreen1, "lgreen"), (T_60B, D_lgreen2, "lgreen"),
                 (T_60, D_yellow1, "yellow"), (T_60B, D_yellow2, "yellow")],
                [(T_FIT_D, D_fit_navy, "navy"), (T_FIT_D, D_fit_blue, "blue"),
                 (T_FIT_D, D_fit_dgreen, "dgreen"), (T_FIT_D, D_fit_green, "green")])

sE = make_side(38, H2, BT2, BB2, "E", 0, 20)
pE = make_panel("A53T", "#800080", 139, (0, 4.0), (0, 5.0), X_TICKS_4, X_LABELS_4, Y_TICKS_5, Y_LABELS_5,
                44, 350, 10, BT2, BB2,
                [(T_E, E_gray1, "gray"), (T_E, E_gray2, "gray"),
                 (T_E, E_purple1, "purple"), (T_E, E_purple2, "purple"),
                 (T_E, E_blue1, "blue"), (T_E, E_blue2, "blue"),
                 (T_E, E_dgreen1, "dgreen"), (T_E, E_dgreen2, "dgreen"),
                 (T_E, E_lgreen1, "lgreen"), (T_E, E_lgreen2, "lgreen"),
                 (T_E, E_yellow1, "yellow"), (T_E, E_yellow2, "yellow")],
                [(T_FIT_E, E_fit_navy, "navy"), (T_FIT_E, E_fit_blue, "blue"),
                 (T_FIT_E, E_fit_dgreen, "dgreen"), (T_FIT_E, E_fit_green, "green"),
                 (T_FIT_E, E_fit_yellow, "yellow")])

layout = column(row(sA, pA, sB, pB, sC, pC), row(sD, pD, sE, pE))
open("out.html", "w").write(file_html(layout, INLINE))
